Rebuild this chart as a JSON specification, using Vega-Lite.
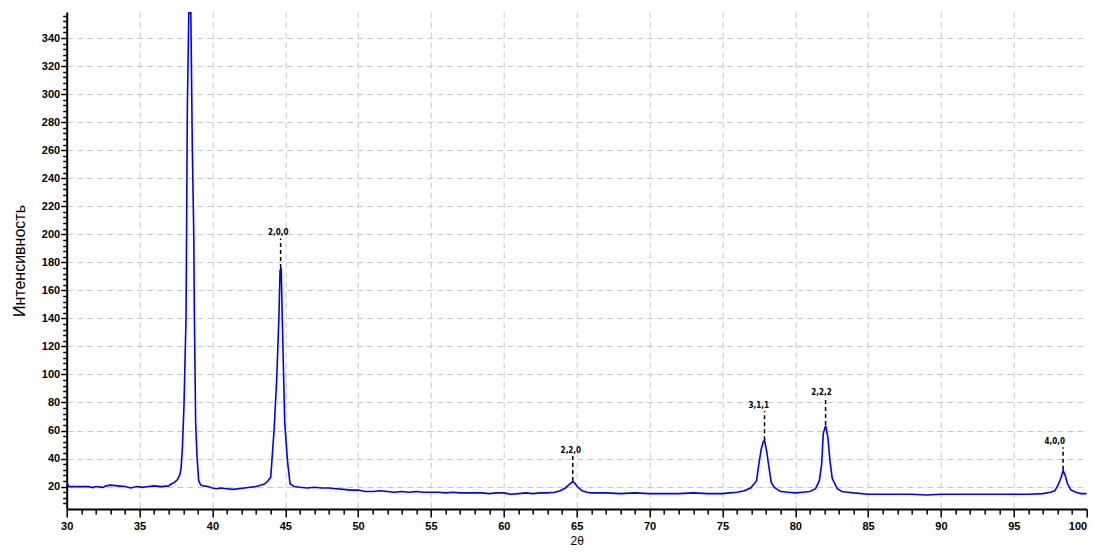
{
  "$schema": "https://vega.github.io/schema/vega-lite/v6.json",
  "width": 1020,
  "height": 497,
  "autosize": {"type": "none"},
  "padding": {"left": 66.7, "top": 12, "right": 8.3, "bottom": 47},
  "background": "white",
  "config": {
    "view": {"stroke": null},
    "font": "Liberation Sans",
    "axis": {
      "domainColor": "black",
      "domainWidth": 2,
      "tickColor": "black",
      "tickWidth": 1.5,
      "labelColor": "black",
      "labelFont": "Liberation Sans",
      "labelFontWeight": "bold",
      "labelFontSize": 11,
      "titleColor": "black",
      "titleFont": "Liberation Sans",
      "titleFontWeight": "normal",
      "gridColor": "#c8c8c8",
      "gridDash": [6, 4],
      "gridWidth": 1
    }
  },
  "datasets": {
    "curve": [
      {"t": 30.0, "i": 23}, {"t": 30.15, "i": 20}, {"t": 30.5, "i": 20}, {"t": 31.0, "i": 20}, {"t": 31.5, "i": 20},
      {"t": 31.8, "i": 19.3}, {"t": 32.0, "i": 20}, {"t": 32.5, "i": 19.4}, {"t": 32.7, "i": 20.5}, {"t": 33.0, "i": 21},
      {"t": 33.5, "i": 20.5}, {"t": 34.0, "i": 20}, {"t": 34.4, "i": 19}, {"t": 34.8, "i": 20}, {"t": 35.2, "i": 19.4},
      {"t": 35.6, "i": 20}, {"t": 36.0, "i": 20.5}, {"t": 36.5, "i": 20}, {"t": 37.0, "i": 20.5}, {"t": 37.2, "i": 22},
      {"t": 37.4, "i": 23}, {"t": 37.6, "i": 25}, {"t": 37.75, "i": 28}, {"t": 37.85, "i": 33}, {"t": 37.94, "i": 48},
      {"t": 38.05, "i": 78}, {"t": 38.19, "i": 141}, {"t": 38.28, "i": 291}, {"t": 38.38, "i": 358}, {"t": 38.52, "i": 358},
      {"t": 38.62, "i": 262}, {"t": 38.72, "i": 200}, {"t": 38.76, "i": 144}, {"t": 38.85, "i": 65}, {"t": 38.95, "i": 40},
      {"t": 39.06, "i": 24}, {"t": 39.2, "i": 21}, {"t": 39.4, "i": 20.5}, {"t": 39.7, "i": 20}, {"t": 40.0, "i": 19},
      {"t": 40.3, "i": 18.5}, {"t": 40.6, "i": 19}, {"t": 41.0, "i": 18.5}, {"t": 41.4, "i": 18}, {"t": 41.8, "i": 18.5},
      {"t": 42.2, "i": 19}, {"t": 42.6, "i": 19.5}, {"t": 43.0, "i": 20}, {"t": 43.3, "i": 21}, {"t": 43.6, "i": 22},
      {"t": 43.8, "i": 24}, {"t": 44.0, "i": 26.6}, {"t": 44.23, "i": 60}, {"t": 44.41, "i": 96}, {"t": 44.57, "i": 143},
      {"t": 44.64, "i": 174}, {"t": 44.72, "i": 176}, {"t": 44.8, "i": 138}, {"t": 44.96, "i": 66}, {"t": 45.15, "i": 38.5},
      {"t": 45.33, "i": 22}, {"t": 45.6, "i": 20}, {"t": 46.0, "i": 19.5}, {"t": 46.5, "i": 19}, {"t": 47.0, "i": 19.5},
      {"t": 47.5, "i": 19}, {"t": 48.0, "i": 19}, {"t": 48.5, "i": 18.5}, {"t": 49.0, "i": 18}, {"t": 49.5, "i": 17.5},
      {"t": 50.0, "i": 17.5}, {"t": 50.5, "i": 16.5}, {"t": 51.0, "i": 16.5}, {"t": 51.5, "i": 17}, {"t": 52.0, "i": 16.5},
      {"t": 52.5, "i": 16}, {"t": 53.0, "i": 16.5}, {"t": 53.5, "i": 16}, {"t": 54.0, "i": 16.5}, {"t": 54.5, "i": 16},
      {"t": 55.0, "i": 16}, {"t": 55.5, "i": 16}, {"t": 56.0, "i": 15.5}, {"t": 56.5, "i": 16}, {"t": 57.0, "i": 15.5},
      {"t": 57.5, "i": 15.5}, {"t": 58.0, "i": 15.5}, {"t": 58.5, "i": 15.5}, {"t": 59.0, "i": 15}, {"t": 59.5, "i": 15.5},
      {"t": 60.0, "i": 15.5}, {"t": 60.5, "i": 14.5}, {"t": 61.0, "i": 15}, {"t": 61.5, "i": 15.5}, {"t": 62.0, "i": 15},
      {"t": 62.5, "i": 15.5}, {"t": 63.0, "i": 15.5}, {"t": 63.5, "i": 16}, {"t": 63.88, "i": 17}, {"t": 64.22, "i": 19},
      {"t": 64.5, "i": 21.5}, {"t": 64.73, "i": 23.6}, {"t": 64.9, "i": 22}, {"t": 65.03, "i": 20}, {"t": 65.37, "i": 17},
      {"t": 65.7, "i": 16}, {"t": 66.0, "i": 15.5}, {"t": 67.0, "i": 15.5}, {"t": 68.0, "i": 15}, {"t": 69.0, "i": 15.5},
      {"t": 70.0, "i": 15}, {"t": 71.0, "i": 15}, {"t": 72.0, "i": 15}, {"t": 73.0, "i": 15.5}, {"t": 74.0, "i": 15},
      {"t": 75.0, "i": 15}, {"t": 75.5, "i": 15.5}, {"t": 76.0, "i": 16}, {"t": 76.5, "i": 17}, {"t": 76.93, "i": 19},
      {"t": 77.34, "i": 24}, {"t": 77.5, "i": 36}, {"t": 77.67, "i": 47}, {"t": 77.8, "i": 52}, {"t": 77.89, "i": 53},
      {"t": 78.03, "i": 45.7}, {"t": 78.19, "i": 34}, {"t": 78.35, "i": 23}, {"t": 78.55, "i": 19.5}, {"t": 78.76, "i": 18},
      {"t": 79.0, "i": 16.5}, {"t": 79.5, "i": 16}, {"t": 80.0, "i": 15.5}, {"t": 80.5, "i": 16}, {"t": 81.0, "i": 16.5},
      {"t": 81.39, "i": 18.5}, {"t": 81.65, "i": 24}, {"t": 81.81, "i": 36}, {"t": 81.92, "i": 57.8}, {"t": 82.08, "i": 63.5},
      {"t": 82.24, "i": 55}, {"t": 82.38, "i": 38.5}, {"t": 82.54, "i": 25.7}, {"t": 82.88, "i": 18.5}, {"t": 83.2, "i": 16.5},
      {"t": 83.6, "i": 16}, {"t": 84.0, "i": 15.5}, {"t": 85.0, "i": 14.5}, {"t": 86.0, "i": 14.5}, {"t": 87.0, "i": 14.5},
      {"t": 88.0, "i": 14.5}, {"t": 89.0, "i": 14}, {"t": 90.0, "i": 14.5}, {"t": 91.0, "i": 14.5}, {"t": 92.0, "i": 14.5},
      {"t": 93.0, "i": 14.5}, {"t": 94.0, "i": 14.5}, {"t": 95.0, "i": 14.5}, {"t": 96.0, "i": 14.5}, {"t": 97.0, "i": 15},
      {"t": 97.5, "i": 16}, {"t": 97.81, "i": 17}, {"t": 98.03, "i": 21}, {"t": 98.22, "i": 25.7}, {"t": 98.38, "i": 31.4},
      {"t": 98.52, "i": 28}, {"t": 98.68, "i": 22}, {"t": 98.91, "i": 17.6}, {"t": 99.25, "i": 16}, {"t": 99.6, "i": 15},
      {"t": 100.0, "i": 15}
    ],
    "peaks": [
      {"t": 44.68, "top": 176, "lbl": 200, "lt": 44.52, "hkl": "2,0,0"},
      {"t": 64.73, "top": 24, "lbl": 45, "lt": 64.6, "hkl": "2,2,0"},
      {"t": 77.89, "top": 53, "lbl": 77, "lt": 77.5, "hkl": "3,1,1"},
      {"t": 82.08, "top": 64, "lbl": 86, "lt": 81.8, "hkl": "2,2,2"},
      {"t": 98.38, "top": 32, "lbl": 51, "lt": 97.8, "hkl": "4,0,0"}
    ]
  },
  "layer": [
    {
      "data": {"name": "curve"},
      "mark": {"type": "line", "color": "#0000ff", "strokeWidth": 1.6, "clip": true},
      "encoding": {
        "x": {
          "field": "t", "type": "quantitative",
          "scale": {"domain": [30, 100], "nice": false, "zero": false},
          "axis": {
            "title": "2θ",
            "titleFontSize": 12,
            "titlePadding": 4,
            "tickCount": 500,
            "format": "d",
            "values": [30,31,32,33,34,35,36,37,38,39,40,41,42,43,44,45,46,47,48,49,50,51,52,53,54,55,56,57,58,59,60,61,62,63,64,65,66,67,68,69,70,71,72,73,74,75,76,77,78,79,80,81,82,83,84,85,86,87,88,89,90,91,92,93,94,95,96,97,98,99,100],
            "labelExpr": "datum.value % 5 === 0 ? datum.label : ''",
            "labelOverlap": false,
            "labelFlush": false,
            "labelAlign": {"condition": {"test": "datum.value === 100", "value": "right"}, "value": "center"},
            "labelPadding": 3,
            "tickSize": {"condition": {"test": "datum.value % 5 === 0", "value": 8}, "value": 5},
            "gridOpacity": {"condition": {"test": "datum.value % 5 === 0 && datum.value > 30 && datum.value < 100", "value": 1}, "value": 0}
          }
        },
        "y": {
          "field": "i", "type": "quantitative",
          "scale": {"domain": [4, 358.6], "nice": false, "zero": false},
          "axis": {
            "title": "Интенсивность",
            "titleFontSize": 16,
            "titleX": -42,
            "titleY": 248.5,
            "titleBaseline": "alphabetic",
            "tickCount": 500,
            "format": "d",
            "values": [8,12,16,20,24,28,32,36,40,44,48,52,56,60,64,68,72,76,80,84,88,92,96,100,104,108,112,116,120,124,128,132,136,140,144,148,152,156,160,164,168,172,176,180,184,188,192,196,200,204,208,212,216,220,224,228,232,236,240,244,248,252,256,260,264,268,272,276,280,284,288,292,296,300,304,308,312,316,320,324,328,332,336,340,344,348,352,356],
            "labelExpr": "datum.value % 20 === 0 ? datum.label : ''",
            "labelOverlap": false,
            "labelFlush": false,
            "labelPadding": 1,
            "tickSize": {"condition": {"test": "datum.value % 20 === 0", "value": 6}, "value": 4},
            "gridOpacity": {"condition": {"test": "datum.value % 20 === 0", "value": 1}, "value": 0}
          }
        }
      }
    },
    {
      "data": {"name": "peaks"},
      "transform": [{"calculate": "datum.lbl - 3", "as": "ruleTop"}],
      "mark": {"type": "rule", "color": "black", "strokeWidth": 1.5, "strokeDash": [4, 3]},
      "encoding": {
        "x": {"field": "t", "type": "quantitative"},
        "y": {"field": "top", "type": "quantitative"},
        "y2": {"field": "ruleTop"}
      }
    },
    {
      "data": {"name": "peaks"},
      "mark": {"type": "text", "color": "black", "fontSize": 8, "fontWeight": "bold", "font": "DejaVu Sans Condensed", "baseline": "bottom", "dy": 3},
      "encoding": {
        "x": {"field": "lt", "type": "quantitative"},
        "y": {"field": "lbl", "type": "quantitative"},
        "text": {"field": "hkl"}
      }
    }
  ]
}
